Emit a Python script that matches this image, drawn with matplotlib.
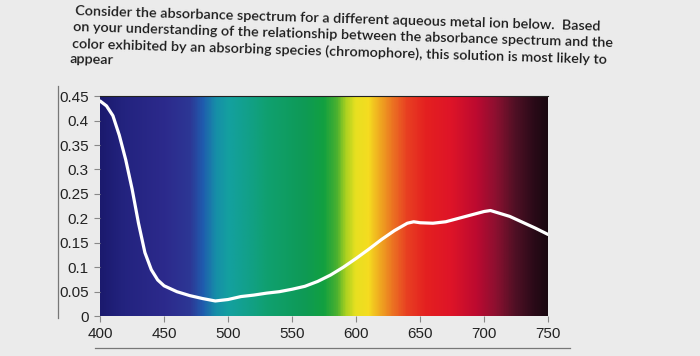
import numpy as np
import matplotlib
matplotlib.use("Agg")
import matplotlib.pyplot as plt
from matplotlib.colors import LinearSegmentedColormap
from matplotlib.lines import Line2D

# ---- data ----
wavelength = [400, 405, 410, 415, 420, 425, 430, 435, 440, 445, 450, 460, 470, 480,
              490, 500, 510, 520, 530, 540, 550, 560, 570, 580, 590, 600, 610, 620,
              630, 640, 645, 650, 660, 670, 680, 690, 700, 705, 710, 720, 730, 740, 750]
absorbance = [0.440, 0.430, 0.410, 0.370, 0.320, 0.260, 0.190, 0.130, 0.095, 0.074,
              0.062, 0.050, 0.042, 0.036, 0.031, 0.034, 0.040, 0.043, 0.047, 0.050,
              0.055, 0.061, 0.071, 0.084, 0.100, 0.118, 0.137, 0.157, 0.175, 0.190,
              0.193, 0.191, 0.190, 0.193, 0.200, 0.207, 0.214, 0.216, 0.212, 0.204,
              0.192, 0.180, 0.167]

x_ticks = [400, 450, 500, 550, 600, 650, 700, 750]
y_ticks = [0, 0.05, 0.1, 0.15, 0.2, 0.25, 0.3, 0.35, 0.4, 0.45]
y_tick_labels = ["0", "0.05", "0.1", "0.15", "0.2", "0.25", "0.3", "0.35", "0.4", "0.45"]

spectrum_nm = [400, 418, 450, 470, 480, 490, 500, 515, 530, 560, 575, 585, 592, 600,
               610, 618, 628, 640, 655, 675, 695, 710, 725, 740, 750]
spectrum_col = ["#1b1a6e", "#23237f", "#2c2a8c", "#2d3795", "#1f5cae", "#168ea8",
                "#14a0a0", "#12a08a", "#10a070", "#0e9a55", "#12a040", "#48b030",
                "#a8d020", "#e8e020", "#f5dc20", "#f0ae20", "#ec7822", "#e84022",
                "#e42020", "#de1428", "#bc0a30", "#8c1030", "#501025", "#2a0a18",
                "#1a0810"]

question_lines = [
    "Consider the absorbance spectrum for a different aqueous metal ion below.  Based",
    "on your understanding of the relationship between the absorbance spectrum and the",
    "color exhibited by an absorbing species (chromophore), this solution is most likely to",
    "appear",
]

# ---- figure ----
fig = plt.figure(figsize=(7.0, 3.56), dpi=100, facecolor="#ebebeb")
ax = fig.add_axes([0.143, 0.112, 0.640, 0.618])

pos = [(w - 400) / 350 for w in spectrum_nm]
cmap = LinearSegmentedColormap.from_list("spec", list(zip(pos, spectrum_col)))
grad = np.linspace(0, 1, 700).reshape(1, -1)
ax.imshow(grad, cmap=cmap, aspect="auto", extent=[400, 750, 0, 0.45],
          interpolation="bilinear", zorder=0)

ax.plot(wavelength, absorbance, color="white", lw=2.3, solid_capstyle="round", zorder=2)

ax.set_xlim(400, 750)
ax.set_ylim(0, 0.45)
ax.set_xticks(x_ticks)
ax.set_xticklabels([str(t) for t in x_ticks])
ax.set_yticks(y_ticks)
ax.set_yticklabels(y_tick_labels)
for s in ax.spines.values():
    s.set_visible(False)
ax.spines["top"].set_visible(True)
ax.spines["top"].set_color("#222222")
ax.spines["top"].set_linewidth(0.8)
ax.tick_params(axis="both", direction="out", length=4, width=0.8, color="#888888",
               labelsize=11, labelcolor="#222222", pad=4)
for lab in ax.get_xticklabels() + ax.get_yticklabels():
    lab.set_family("Liberation Sans")

# axis line left of the y labels and rule below the x labels
fig.add_artist(Line2D([58 / 700, 58 / 700], [1 - 86 / 356, 1 - 318 / 356],
                      color="#777777", lw=0.9, transform=fig.transFigure))
fig.add_artist(Line2D([95 / 700, 570 / 700], [1 - 348 / 356, 1 - 348 / 356],
                      color="#777777", lw=0.9, transform=fig.transFigure))

starts = [(75, 15), (73, 31.5), (72, 47.5), (70, 63)]
for (x0, yb), line in zip(starts, question_lines):
    fig.text(x0 / 700, 1 - yb / 356, line, ha="left", va="baseline", fontsize=10.4,
             family=["Lato", "DejaVu Sans"], weight="semibold", color="#1e1e1e",
             rotation=-1.7, rotation_mode="anchor")

fig.savefig("out.png", dpi=100, facecolor=fig.get_facecolor())
